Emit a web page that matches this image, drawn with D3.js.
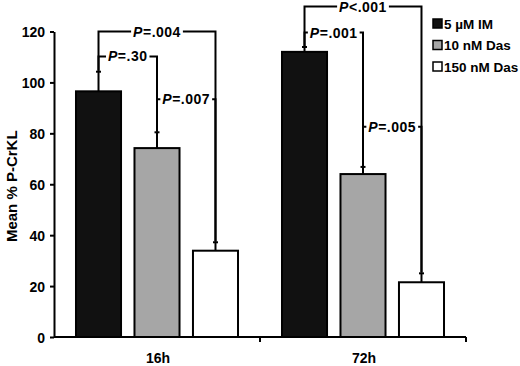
<!DOCTYPE html>
<meta charset="utf-8">
<style>
  body { margin: 0; background: white; }
  svg { font-family: Arial, "Liberation Sans", sans-serif; font-weight: bold; }
  .axis path, .axis line { stroke: black; stroke-width: 2; }
  .axis text { font-size: 14px; font-weight: bold; fill: black; }
  .bracket { stroke: black; stroke-width: 2; fill: none; }
</style>
<body>
</body>
<script src="https://cdn.jsdelivr.net/npm/d3@7/dist/d3.min.js"></script>
<script>
  const groups = ['16h', '72h'];
  const series = ['5 \u00b5M IM', '10 nM Das', '150 nM Das'];
  const fills = ['#111', '#a6a6a6', '#fff'];
  // means and upper error (mean + sd) per group, in series order
  const means = [[96.5, 74.2, 33.9], [112.0, 64.0, 21.5]];
  const errTop = [[104.6, 80.8, 37.6], [114.3, 67.2, 25.4]];
  const yTicks = [0, 20, 40, 60, 80, 100, 120];
  // significance brackets: group, from series, to series, level, label
  const brackets = [
    {g: 0, a: 0, b: 2, level: 120, op: '=', p: '.004'},
    {g: 0, a: 0, b: 1, level: 110.2, op: '=', p: '.30'},
    {g: 0, a: 1, b: 2, level: 93.4, op: '=', p: '.007'},
    {g: 1, a: 0, b: 2, level: 129.8, op: '<', p: '.001'},
    {g: 1, a: 0, b: 1, level: 119.6, op: '=', p: '.001'},
    {g: 1, a: 1, b: 2, level: 82.6, op: '=', p: '.005'}
  ];

  const w = 520, h = 366;
  const l = 54, r = 466, t = 31.5, b = 337;

  const svg = d3.select('body').append('svg')
    .attr('width', w)
    .attr('height', h);

  const x0 = d3.scaleBand().domain(groups).range([l, r]);
  const x1 = d3.scaleBand().domain(d3.range(series.length))
    .range([0, x0.bandwidth()]).paddingInner(0.23).paddingOuter(0.376);
  const y = d3.scaleLinear().domain([0, 120]).range([b, t]);

  const cx = (g, s) => x0(groups[g]) + x1(s) + x1.bandwidth() / 2;

  // bars
  const bars = svg.append('g');
  means.forEach((row, gi) => {
    bars.selectAll(null)
      .data(row)
      .join('rect')
      .attr('x', (d, i) => x0(groups[gi]) + x1(i))
      .attr('y', d => y(d))
      .attr('width', x1.bandwidth())
      .attr('height', d => y(0) - y(d))
      .attr('fill', (d, i) => fills[i])
      .attr('stroke', 'black')
      .attr('stroke-width', 2);
  });

  // error bars (upper only)
  const errs = svg.append('g').attr('class', 'bracket');
  errTop.forEach((row, gi) => {
    row.forEach((e, i) => {
      const xc = cx(gi, i);
      errs.append('line').attr('x1', xc).attr('x2', xc)
        .attr('y1', y(means[gi][i])).attr('y2', y(e));
      errs.append('line').attr('x1', xc - 2.5).attr('x2', xc + 2.5)
        .attr('y1', y(e) + 1).attr('y2', y(e) + 1);
    });
  });

  // significance brackets
  const br = svg.append('g');
  brackets.forEach(d => {
    const xa = cx(d.g, d.a), xb = cx(d.g, d.b), yl = y(d.level);
    br.append('path').attr('class', 'bracket')
      .attr('d', `M${xa},${y(errTop[d.g][d.a])}V${yl}H${xb}V${y(errTop[d.g][d.b])}`);
    const txt = br.append('text')
      .attr('x', (xa + xb) / 2)
      .attr('y', yl + 5)
      .attr('text-anchor', 'middle')
      .attr('font-size', 14)
      .attr('letter-spacing', 0.5);
    txt.append('tspan').attr('font-style', 'italic').text('P');
    txt.append('tspan').text(d.op + d.p);
    const bb = txt.node().getBBox();
    br.insert('rect', () => txt.node())
      .attr('x', bb.x - 2).attr('y', yl - 2)
      .attr('width', bb.width + 4).attr('height', 4)
      .attr('fill', 'white');
  });

  // y axis
  svg.append('g')
    .attr('class', 'axis')
    .attr('transform', `translate(${l}, 0)`)
    .call(d3.axisLeft(y).tickValues(yTicks).tickSize(4).tickSizeOuter(0).tickPadding(5))
    .call(g => g.selectAll('text').attr('dy', '0.36em'));

  // x axis
  const xa = svg.append('g').attr('class', 'axis');
  xa.append('line').attr('x1', l).attr('x2', r).attr('y1', b).attr('y2', b);
  xa.selectAll('.tk')
    .data([x0(groups[1]), r])
    .join('line')
    .attr('x1', d => d).attr('x2', d => d)
    .attr('y1', b).attr('y2', b + 5);
  xa.selectAll('text')
    .data(groups)
    .join('text')
    .attr('x', d => x0(d) + x0.bandwidth() / 2 + 1)
    .attr('y', 362.5)
    .attr('text-anchor', 'middle')
    .attr('font-size', 15)
    .text(d => d);

  // y title
  svg.append('text')
    .attr('transform', `translate(16.5, ${(t + b) / 2 + 2}) rotate(-90)`)
    .attr('text-anchor', 'middle')
    .attr('font-size', 15)
    .text('Mean % P-CrKL');

  // legend
  const leg = svg.append('g').attr('transform', 'translate(433, 19)');
  const items = leg.selectAll('g')
    .data(series)
    .join('g')
    .attr('transform', (d, i) => `translate(0, ${i * 21.5})`);
  items.append('rect')
    .attr('width', 9).attr('height', 9)
    .attr('fill', (d, i) => fills[i])
    .attr('stroke', 'black').attr('stroke-width', 1.5);
  items.append('text')
    .attr('x', 11).attr('y', 9.5)
    .attr('font-size', 13.5)
    .text(d => d);
</script>
